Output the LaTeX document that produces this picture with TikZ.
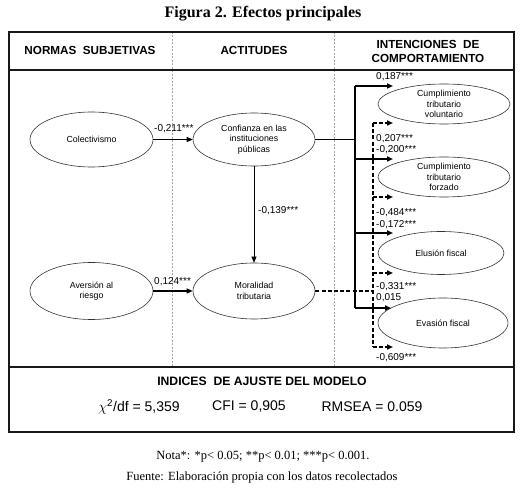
\documentclass[tikz,border=0pt]{standalone}
\usepackage{fontspec}
\setmainfont{Liberation Serif}
\setsansfont{Liberation Sans}
\usetikzlibrary{shapes.geometric,arrows.meta}
\begin{document}
\begin{tikzpicture}[x=1pt,y=-1pt,
  frame/.style={line width=2.6pt,black!90},
  divider/.style={gray!70,dash pattern=on 2pt off 1.5pt,line width=0.5pt},
  var/.style={draw=black!80,line width=0.6pt,ellipse,inner sep=0pt,align=center,font=\sffamily\fontsize{8.8}{10.5}\selectfont},
  head/.style={font=\sffamily\bfseries\fontsize{11.7}{14}\selectfont,align=center},
  coef/.style={font=\sffamily\fontsize{10}{10}\selectfont,anchor=west,inner sep=0pt},
  sol/.style={line width=1.5pt},
  dsh/.style={line width=1.5pt,dash pattern=on 4pt off 2.2pt},
  tip/.style={-{Triangle[length=6pt,width=5pt]}},
  fitv/.style={font=\sffamily\fontsize{14}{16}\selectfont}
]
\useasboundingbox (0,0) rectangle (523,494);
% title
\node[font=\bfseries\fontsize{16}{18}\selectfont] (title) at (263,14) {Figura 2. Efectos principales};
% frames
\draw[divider] (172,32) -- (172,367);
\draw[divider] (334,32) -- (334,367);
\draw[frame] (9,32) rectangle (514,432);
\draw[frame] (9,70) -- (514,70);
\draw[frame] (9,367) -- (514,367);
% headers
\node[head] (h1) at (90,50) {NORMAS\ \ SUBJETIVAS};
\node[head] (h2) at (254,50) {ACTITUDES};
\node[head] (h3) at (428,51) {INTENCIONES\ \ DE\\COMPORTAMIENTO};
% variables
\node[var,minimum width=123pt,minimum height=55pt] (col) at (91.5,139.5) {Colectivismo};
\node[var,minimum width=122pt,minimum height=53pt] (conf) at (254,139.5) {Confianza en las\\instituciones\\públicas};
\node[var,minimum width=123pt,minimum height=57pt] (ave) at (91.5,291) {Aversión al\\riesgo};
\node[var,minimum width=122pt,minimum height=56pt] (mor) at (254,291) {Moralidad\\tributaria};
\node[var,minimum width=132pt,minimum height=40pt] (vol) at (444,104) {Cumplimiento\\tributario\\voluntario};
\node[var,minimum width=132pt,minimum height=40pt] (forz) at (444,177) {Cumplimiento\\tributario\\forzado};
\node[var,minimum width=126pt,minimum height=43pt] (elu) at (441,253) {Elusión fiscal};
\node[var,minimum width=130pt,minimum height=50pt] (eva) at (443,323) {Evasión fiscal};
% left arrows
\draw[line width=0.6pt,tip] (col) -- (conf);
\draw[line width=1.1pt,tip] (ave) -- (mor);
\draw[line width=0.6pt,tip] (conf) -- (mor);
% solid trunk
\coordinate (sj) at (355,139.5);
\coordinate (s1) at (355,86);
\coordinate (s4) at (355,308);
\coordinate (se1) at (393,86);
\coordinate (se2) at (393,159);
\coordinate (se3) at (393,233);
\coordinate (se4) at (391,308);
\draw[sol] (conf.east) -- (sj);
\draw[sol] (s1) -- (s4);
\draw[sol,tip] (s1) -- (se1);
\draw[sol,tip] (se2 -| sj) -- (se2);
\draw[sol,tip] (se3 -| sj) -- (se3);
\draw[sol,tip] (s4) -- (se4);
% dashed trunk
\coordinate (dj) at (373,291);
\coordinate (d1) at (373,123);
\coordinate (d4) at (373,347);
\coordinate (de1) at (393,123);
\coordinate (de2) at (393,197);
\coordinate (de3) at (393,273);
\coordinate (de4) at (393,347);
\draw[dsh] (mor.east) -- (dj);
\draw[dsh] (d1) -- (d4);
\draw[dsh,tip] (d1) -- (de1);
\draw[dsh,tip] (de2 -| dj) -- (de2);
\draw[dsh,tip] (de3 -| dj) -- (de3);
\draw[dsh,tip] (d4) -- (de4);
% coefficients
\node[coef] (c1) at (154,129) {-0,211***};
\node[coef] (c2) at (154,282) {0,124***};
\node[coef] (c3) at (258,211) {-0,139***};
\node[coef] (r1) at (376,77) {0,187***};
\node[coef] (r2) at (376,139) {0,207***};
\node[coef] (r3) at (376,150) {-0,200***};
\node[coef] (r4) at (376,213) {-0,484***};
\node[coef] (r5) at (376,225) {-0,172***};
\node[coef] (r6) at (376,287) {-0,331***};
\node[coef] (r7) at (376,298) {0,015};
\node[coef] (r8) at (376,358) {-0,609***};
% fit
\node[font=\sffamily\bfseries\fontsize{12.2}{14}\selectfont] (fit) at (262,381) {INDICES\ \ DE AJUSTE DEL MODELO};
\node[fitv] (chi) at (139,407) {$\chi$\textsuperscript{2}/df = 5,359};
\node[fitv] (cfi) at (249,407) {CFI = 0,905};
\node[fitv] (rms) at (372,407) {RMSEA = 0.059};
% notes
\node[font=\fontsize{12.5}{14}\selectfont] (nota) at (263,457) {Nota*: *p< 0.05; **p< 0.01; ***p< 0.001.};
\node[font=\fontsize{12.5}{14}\selectfont] (fuente) at (262,477) {Fuente: Elaboración propia con los datos recolectados};
\end{tikzpicture}
\end{document}
